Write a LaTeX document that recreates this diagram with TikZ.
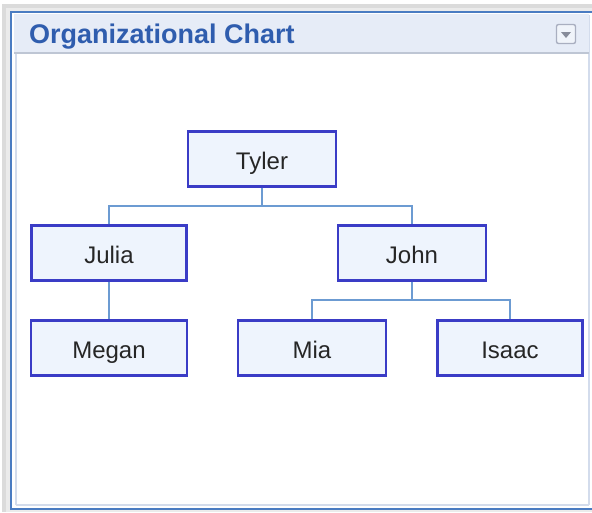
\documentclass[tikz,border=0pt]{standalone}
\usepackage{fontspec}
\setmainfont{Liberation Sans}
\usetikzlibrary{calc}
\definecolor{frameblue}{HTML}{4A7CC2}
\definecolor{innerline}{HTML}{D3DCEC}
\definecolor{titlebg}{HTML}{E6ECF7}
\definecolor{titletext}{HTML}{2F5DAE}
\definecolor{boxfill}{HTML}{EEF4FD}
\definecolor{boxline}{HTML}{3A3CC6}
\definecolor{linkline}{HTML}{6C9BD2}
\definecolor{btngray}{HTML}{A9AFC0}
\tikzset{
  person/.style={draw=boxline, line width=2.2pt, fill=boxfill, minimum width=148pt, minimum height=55pt, inner sep=0pt, text height=21pt, text depth=1pt, font=\fontsize{24}{28}\selectfont, text=black!85},
  link/.style={draw=linkline, line width=2.2pt}
}
\begin{document}
\begin{tikzpicture}[x=1pt,y=-1pt]
\useasboundingbox (0,0) rectangle (592,512);
% shadow
\fill[black!14] (2,4) rectangle (592,512);
\fill[black!8] (6,8) rectangle (592,512);
% panel
\fill[white] (11,12) rectangle (592,510);
\draw[frameblue, line width=2.8pt] (11,510) -- (11,12) -- (595,12);
\draw[frameblue, line width=2.2pt] (11,509) -- (595,509);
\draw[innerline, line width=1.2pt] (16,505) -- (16,15) (589,15) -- (589,505) (16,505) -- (589,505);
% title bar
\fill[titlebg] (14,14) rectangle (589,52);
\draw[innerline!90!black, line width=1.2pt] (14,53) -- (589,53);
\node[anchor=base west, text=titletext, font=\fontsize{27}{32}\selectfont\bfseries, inner sep=0pt] (title) at (29,43) {Organizational Chart};
% dropdown button
\node[draw=btngray, line width=1.4pt, fill=titlebg!60!white, rounded corners=2pt, minimum width=19pt, minimum height=19pt, inner sep=0pt] (btn) at (566,34) {};
\fill[btngray!80!black] ($(btn.center)+(-5,-2)$) -- ($(btn.center)+(5,-2)$) -- ($(btn.center)+(0,4)$) -- cycle;
% nodes
\node[person] (tyler) at (262,159) {Tyler};
\node[person, minimum width=155pt] (julia) at (109,253) {Julia};
\node[person] (john) at (412,253) {John};
\node[person, minimum width=156pt] (megan) at (109,348) {Megan};
\node[person] (mia) at (312,348) {Mia};
\node[person, minimum width=145pt] (isaac) at (510,348) {Isaac};
% connectors
\coordinate (j1) at (262,206);
\coordinate (j2) at (412,300);
\draw[link] (tyler.south) -- (j1);
\draw[link] (julia.north) |- (j1) -| (john.north);
\draw[link] (julia.south) -- (megan.north);
\draw[link] (john.south) -- (j2);
\draw[link] (mia.north) |- (j2) -| (isaac.north);
\end{tikzpicture}
\end{document}
